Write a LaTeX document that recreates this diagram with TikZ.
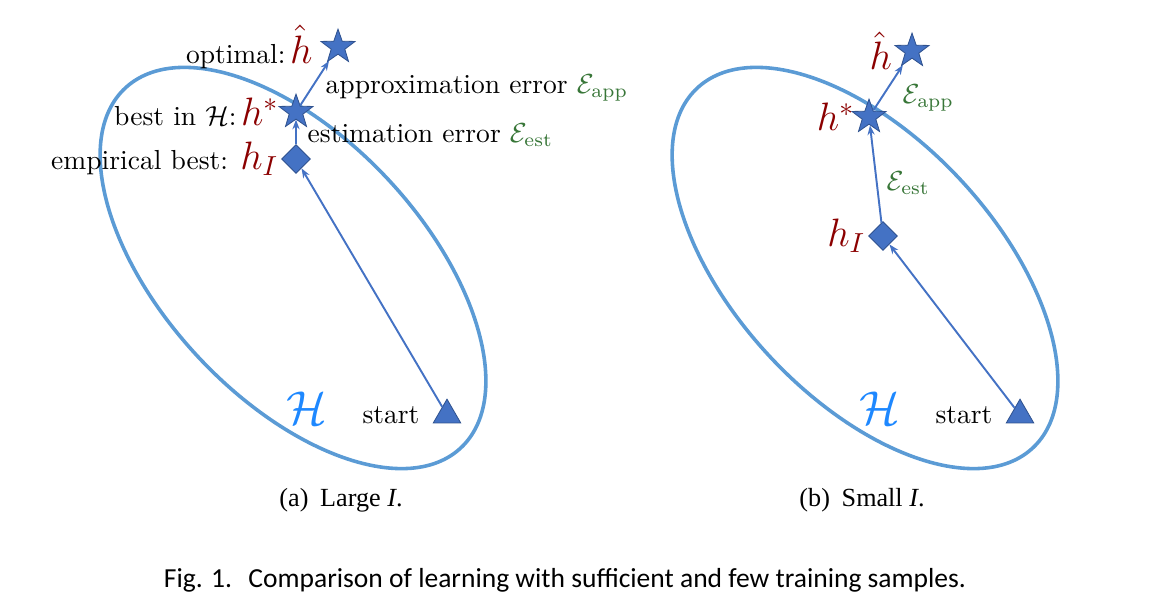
\documentclass[tikz,border=0pt]{standalone}
\usepackage{amsmath}
\usepackage{amssymb}
\usepackage{fontspec}
\newfontfamily\subcapfont{Liberation Serif}
\newfontfamily\capfont{Carlito}
\usetikzlibrary{arrows.meta,shapes.geometric,positioning}

\definecolor{hsetblue}{RGB}{91,155,213}
\definecolor{markblue}{RGB}{68,114,196}
\definecolor{markedge}{RGB}{47,82,143}
\definecolor{hred}{RGB}{139,0,0}
\definecolor{errgreen}{RGB}{56,118,56}
\definecolor{calblue}{RGB}{30,136,255}

\tikzset{
  hset/.style={draw=hsetblue, line width=1.3pt},
  starmark/.style={star, star points=5, star point ratio=2.5, fill=markblue, draw=markedge, line width=0.3pt, minimum size=13pt, inner sep=0pt},
  diamark/.style={diamond, fill=markblue, draw=markedge, line width=0.3pt, minimum size=10.5pt, inner sep=0pt},
  trimark/.style={regular polygon, regular polygon sides=3, fill=markblue, draw=markedge, line width=0.3pt, minimum size=11.5pt, inner sep=0pt},
  walk/.style={draw=markblue, line width=0.7pt, -{Stealth[length=3.5pt,width=2.6pt]}},
  hname/.style={text=hred, font=\Large},
  errname/.style={text=errgreen},
}

\begin{document}
\begin{tikzpicture}[x=0.3633pt, y=-0.3633pt]
    \useasboundingbox (0,0) rectangle (1173,610);

    % (a) large I
    \draw[hset, rotate around={-47:(293,268)}] (293,268) ellipse (246 and 130);
    \node[text=calblue, font=\LARGE] (seta) at (307,408) {$\mathcal{H}$};

    \node[trimark] (starta) at (447,415) {};
    \node[diamark] (hIa) at (296,159) {};
    \node[starmark] (hsa) at (296,112) {};
    \node[starmark] (hopta) at (338,47) {};

    \node[left=3pt of starta] (lstarta) {start};
    \node[left=-2.5pt of hIa] (lhIa) {empirical best: \textcolor{hred}{\Large$h_I$}};
    \node[left=-1pt of hsa] (lhsa) {best in $\mathcal{H}$:\,\textcolor{hred}{\Large$h^*$}};
    \node[left=2pt of hopta] (lhopta) {optimal:\,\textcolor{hred}{\Large$\hat{h}$}};

    \draw[walk] (starta) -- (hIa);
    \draw[walk] (hIa) -- (hsa);
    \draw[walk] (hsa) -- (hopta);

    \node[anchor=west] (appa) at (316,88) {approximation error \textcolor{errgreen}{$\mathcal{E}_{\text{app}}$}};
    \node[anchor=west] (esta) at (298,135) {estimation error \textcolor{errgreen}{$\mathcal{E}_{\text{est}}$}};

    \node[font=\subcapfont\fontsize{9.5}{11}\selectfont] (capa) at (341,500) {(a)\hspace{0.45em}Large \textit{I}.};

    % (b) small I
    \draw[hset, rotate around={-47:(865,268)}] (865,268) ellipse (246 and 130);
    \node[text=calblue, font=\LARGE] (setb) at (880,408) {$\mathcal{H}$};

    \node[trimark] (startb) at (1020,415) {};
    \node[diamark] (hIb) at (883,236) {};
    \node[starmark] (hsb) at (869,117) {};
    \node[starmark] (hoptb) at (912,51) {};

    \node[left=3pt of startb] (lstartb) {start};
    \node[left=-2.5pt of hIb, hname] (lhIb) {$h_I$};
    \node[left=-2pt of hsb, hname] (lhsb) {$h^*$};
    \node[left=0pt of hoptb, hname] (lhoptb) {$\hat{h}$};

    \draw[walk] (startb) -- (hIb);
    \draw[walk] (hIb) -- (hsb);
    \draw[walk] (hsb) -- (hoptb);

    \node[anchor=west, errname] (appb) at (893,98) {$\mathcal{E}_{\text{app}}$};
    \node[anchor=west, errname] (estb) at (877,183) {$\mathcal{E}_{\text{est}}$};

    \node[font=\subcapfont\fontsize{9.5}{11}\selectfont] (capb) at (862,500) {(b)\hspace{0.45em}Small \textit{I}.};

    % figure caption
    \node[font=\capfont] (figcap) at (565,580) {Fig. 1.\hspace{0.6em}Comparison of learning with sufficient and few training samples.};
\end{tikzpicture}
\end{document}
